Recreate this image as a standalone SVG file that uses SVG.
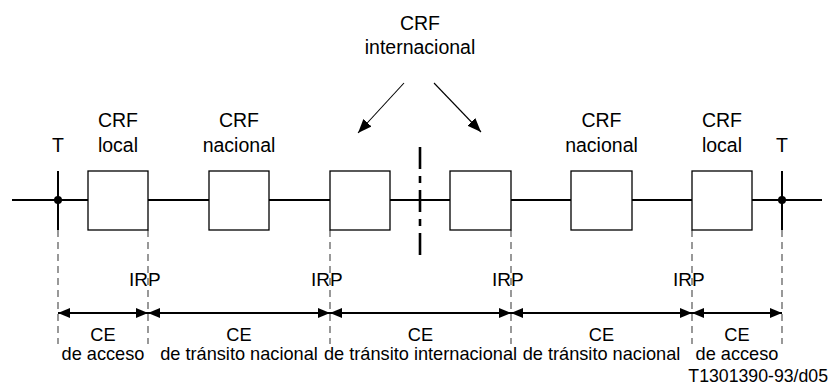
<svg xmlns="http://www.w3.org/2000/svg" width="830" height="392" viewBox="0 0 830 392">
<style>
text{font-family:"Liberation Sans",Arial,sans-serif;fill:#000}
.lbl{font-size:19.5px;text-anchor:middle}
.bt{font-size:18.2px;text-anchor:middle}
.irp{font-size:19px}
.box{fill:#fff;stroke:#000;stroke-width:1.3}
.main{stroke:#000;stroke-width:2;fill:none}
.dash{stroke:#555;stroke-width:1.2;stroke-dasharray:7,5;fill:none}
.dim{stroke:#000;stroke-width:2;fill:none;marker-start:url(#ah);marker-end:url(#ah)}
.ptr{stroke:#000;stroke-width:1.1;fill:none;marker-end:url(#ap)}
</style>
<defs>
<marker id="ah" viewBox="0 0 12 10" refX="12" refY="5" markerWidth="12" markerHeight="10" markerUnits="userSpaceOnUse" orient="auto-start-reverse">
<path d="M0,0 L12,5 L0,10 z" fill="#000"/>
</marker>
<marker id="ap" viewBox="0 0 14 11" refX="14" refY="5.5" markerWidth="14" markerHeight="11" markerUnits="userSpaceOnUse" orient="auto">
<path d="M0,0 L14,5.5 L0,11 z" fill="#000"/>
</marker>
</defs>
<g id="connectors">
<line class="main" x1="12" y1="200" x2="822" y2="200"/>
<line class="main" x1="58" y1="171" x2="58" y2="230"/>
<line class="main" x1="782" y1="171" x2="782" y2="230"/>
<circle cx="58" cy="200" r="4" fill="#000"/>
<circle cx="782" cy="200" r="4" fill="#000"/>
<line x1="420" y1="147" x2="420" y2="260" stroke="#000" stroke-width="2.6" stroke-dasharray="22,7,7,7"/>
<line class="ptr" x1="404" y1="83" x2="358" y2="133"/>
<line class="ptr" x1="434" y1="83" x2="481" y2="132"/>
<line class="dash" x1="58" y1="230" x2="58" y2="344"/>
<line class="dash" x1="148" y1="230" x2="148" y2="344"/>
<line class="dash" x1="330" y1="230" x2="330" y2="344"/>
<line class="dash" x1="511" y1="230" x2="511" y2="344"/>
<line class="dash" x1="692" y1="230" x2="692" y2="344"/>
<line class="dash" x1="782" y1="230" x2="782" y2="344"/>
<line class="dim" x1="58" y1="313" x2="148" y2="313"/>
<line class="dim" x1="148" y1="313" x2="330" y2="313"/>
<line class="dim" x1="330" y1="313" x2="511" y2="313"/>
<line class="dim" x1="511" y1="313" x2="692" y2="313"/>
<line class="dim" x1="692" y1="313" x2="782" y2="313"/>
</g>
<g id="crf-local-1"><rect class="box" x="88" y="171" width="60" height="59"/><text class="lbl" x="118" y="127">CRF</text><text class="lbl" x="118" y="152">local</text></g>
<g id="crf-nacional-1"><rect class="box" x="209" y="171" width="60" height="59"/><text class="lbl" x="239" y="127">CRF</text><text class="lbl" x="239" y="152">nacional</text></g>
<g id="crf-int-1"><rect class="box" x="330" y="171" width="60" height="59"/></g>
<g id="crf-int-2"><rect class="box" x="450" y="171" width="61" height="59"/></g>
<g id="crf-nacional-2"><rect class="box" x="571" y="171" width="61" height="59"/><text class="lbl" x="601.5" y="127">CRF</text><text class="lbl" x="601.5" y="152">nacional</text></g>
<g id="crf-local-2"><rect class="box" x="692" y="171" width="60" height="59"/><text class="lbl" x="722" y="127">CRF</text><text class="lbl" x="722" y="152">local</text></g>
<g id="crf-internacional"><text class="lbl" x="420" y="30">CRF</text><text class="lbl" x="420" y="54">internacional</text></g>
<g id="t-left"><text class="lbl" x="58" y="152">T</text></g>
<g id="t-right"><text class="lbl" x="782" y="152">T</text></g>
<g id="irp">
<text class="irp" x="129" y="286">IRP</text>
<text class="irp" x="311" y="286">IRP</text>
<text class="irp" x="492" y="286">IRP</text>
<text class="irp" x="673" y="286">IRP</text>
</g>
<g id="ce-labels">
<text class="bt" x="103" y="341">CE</text><text class="bt" x="103" y="360">de acceso</text>
<text class="bt" x="239" y="341">CE</text><text class="bt" x="239" y="360">de tránsito nacional</text>
<text class="bt" x="420.5" y="341">CE</text><text class="bt" x="420.5" y="360">de tránsito internacional</text>
<text class="bt" x="601.5" y="341">CE</text><text class="bt" x="601.5" y="360">de tránsito nacional</text>
<text class="bt" x="737" y="341">CE</text><text class="bt" x="737" y="360">de acceso</text>
</g>
<text font-size="17.7" text-anchor="end" x="828" y="382">T1301390-93/d05</text>
</svg>
